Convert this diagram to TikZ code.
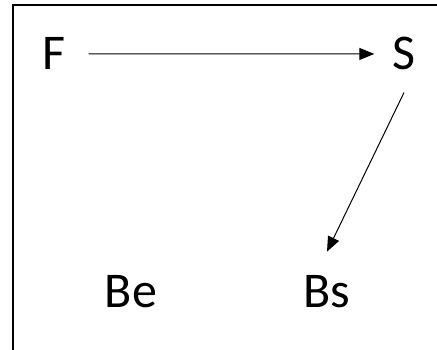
\documentclass[tikz,border=0pt]{standalone}
\usepackage{fontspec}
\setmainfont{Carlito}
\usetikzlibrary{arrows.meta}
\begin{document}
\begin{tikzpicture}[x=1pt,y=1pt,
  lbl/.style={inner sep=0pt, anchor=base, font=\fontsize{50}{60}\selectfont},
  conn/.style={line width=1pt, -{Triangle[length=15pt,width=12pt]}}]
\useasboundingbox (0,0) rectangle (437,-350);
\draw[line width=2pt] (13,-351) -- (13,-5) -- (438,-5);
\node[lbl] (F) at (54,-70) {F};
\node[lbl] (S) at (404,-70) {S};
\node[lbl] (Be) at (131,-308) {Be};
\node[lbl] (Bs) at (327,-308) {Bs};
\draw[conn, shorten <=23pt, shorten >=18pt] (F) -- (S);
\draw[conn] ([yshift=-22pt]S.south) -- ([yshift=24pt]Bs.north);
\end{tikzpicture}
\end{document}
